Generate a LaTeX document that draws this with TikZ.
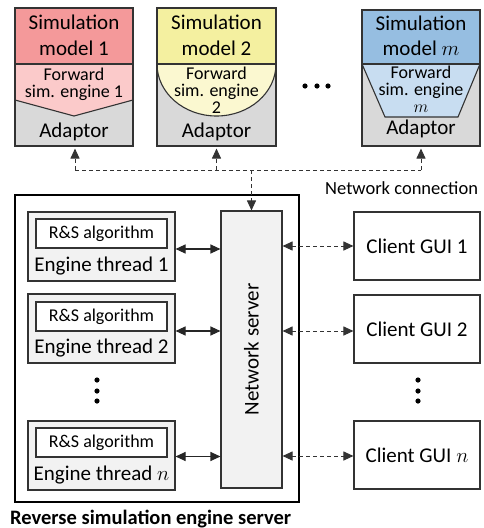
\documentclass[tikz,border=0pt]{standalone}
\usepackage{fontspec}
\setmainfont{Carlito}
\usetikzlibrary{arrows.meta}
\definecolor{redtop}{HTML}{F4999A}
\definecolor{redlow}{HTML}{FBCACA}
\definecolor{yeltop}{HTML}{F4F0A0}
\definecolor{yellow2}{HTML}{FBF8D0}
\definecolor{bluetop}{HTML}{96BEE1}
\definecolor{bluelow}{HTML}{C8DDF1}
\definecolor{adaptgray}{HTML}{D9D9D9}
\definecolor{panel}{HTML}{F2F2F2}
\definecolor{ink}{HTML}{333333}
\newcommand\fbig{\fontsize{21}{25}\selectfont}
\newcommand\fmid{\fontsize{18}{21}\selectfont}
\begin{document}
\begin{tikzpicture}[x=1pt,y=-1pt,
  outline/.style={draw=ink, line width=1.1pt},
  frame/.style={outline, inner sep=0pt, fill=none},
  txt/.style={anchor=base, inner sep=0pt, text=black},
  tipa/.style={-{Triangle[length=10pt,width=9pt]}},
  bitip/.style={{Triangle[length=10pt,width=9pt]}-{Triangle[length=10pt,width=9pt]}},
  dashline/.style={draw=ink, line width=1pt, dash pattern=on 4pt off 3pt},
  solidline/.style={draw=black!85, line width=1.1pt},
  engbox/.style={outline, fill=panel, minimum width=147pt, minimum height=69pt, inner sep=0pt},
  algbox/.style={outline, fill=white, minimum width=131pt, minimum height=29pt, inner sep=0pt},
  guibox/.style={outline, fill=white, minimum width=126pt, minimum height=68pt, inner sep=0pt, font=\fbig},
  dotmark/.style={fill=black}
]
\useasboundingbox (0,0) rectangle (483,528);

% ---- simulation model 1 ----
\fill[adaptgray] (15,8) rectangle (133,146);
\fill[redtop] (15,8) rectangle (133,64);
\fill[redlow] (15,64) -- (133,64) -- (133,100) -- (74,116) -- (15,100) -- cycle;
\draw[outline] (15,64) -- (133,64);
\draw[outline] (15,100) -- (74,116) -- (133,100);
\node[frame, minimum width=118pt, minimum height=138pt] (sim1) at (74,77) {};
\node[txt, font=\fbig] (s1a) at (74,29) {Simulation};
\node[txt, font=\fbig] (s1b) at (74,55) {model 1};
\node[txt, font=\fmid] (s1c) at (74,80) {Forward};
\node[txt, font=\fmid] (s1d) at (74,97) {sim. engine 1};
\node[txt, font=\fbig] (s1e) at (74,137) {Adaptor};

% ---- simulation model 2 ----
\fill[adaptgray] (157,8) rectangle (276,146);
\fill[yeltop] (157,8) rectangle (276,64);
\fill[yellow2] (157,64) arc[start angle=180, end angle=360, x radius=59.5pt, y radius=52pt] -- cycle;
\draw[outline] (157,64) -- (276,64);
\draw[outline] (157,64) arc[start angle=180, end angle=360, x radius=59.5pt, y radius=52pt];
\node[frame, minimum width=119pt, minimum height=138pt] (sim2) at (216.5,77) {};
\node[txt, font=\fbig] (s2a) at (216.5,29) {Simulation};
\node[txt, font=\fbig] (s2b) at (216.5,55) {model 2};
\node[txt, font=\fmid] (s2c) at (216.5,79) {Forward};
\node[txt, font=\fmid] (s2d) at (216.5,96) {sim. engine};
\node[txt, font=\fmid] (s2e) at (216.5,113) {2};
\node[txt, font=\fbig] (s2f) at (216.5,137) {Adaptor};

% ---- ellipsis between models ----
\foreach \dx in {305,317,328} \fill[dotmark] (\dx,86) circle[radius=2.6pt];

% ---- simulation model m ----
\fill[adaptgray] (362,10) rectangle (480,146);
\fill[bluetop] (362,10) rectangle (480,64);
\fill[bluelow] (362,64) -- (480,64) -- (458,117) -- (385,117) -- cycle;
\draw[outline] (362,64) -- (480,64);
\draw[outline] (362,64) -- (385,117) -- (458,117) -- (480,64);
\node[frame, minimum width=118pt, minimum height=136pt] (simm) at (421,78) {};
\node[txt, font=\fbig] (sma) at (421,30) {Simulation};
\node[txt, font=\fbig] (smb) at (421,55) {model $m$};
\node[txt, font=\fmid] (smc) at (421,78) {Forward};
\node[txt, font=\fmid] (smd) at (421,95) {sim. engine};
\node[txt, font=\fmid] (sme) at (421,112) {$m$};
\node[txt, font=\fbig] (smf) at (421,134) {Adaptor};

% ---- reverse simulation engine server ----
\node[draw=black, line width=2.6pt, minimum width=284pt, minimum height=307pt, inner sep=0pt] (rses) at (157,348.5) {};
\node[anchor=base west, inner sep=0pt, font=\fontsize{20.5}{24}\selectfont\bfseries] (rsl) at (10,524) {Reverse simulation engine server};

\node[outline, fill=panel, minimum width=61pt, minimum height=277pt, inner sep=0pt] (ns) at (251.5,349.5) {};
\node[rotate=90, font=\fbig, inner sep=0pt] (nsl) at (ns.center) {Network server};

% engine threads
\node[engbox] (e1) at (101.5,246.5) {};
\node[algbox, font=\fmid] (a1) at (101.5,233.5) {R\&S algorithm};
\node[txt, font=\fbig] (t1) at (101.5,271) {Engine thread 1};

\node[engbox] (e2) at (101.5,328.5) {};
\node[algbox, font=\fmid] (a2) at (101.5,316.5) {R\&S algorithm};
\node[txt, font=\fbig] (t2) at (101.5,353) {Engine thread 2};

\node[engbox] (en) at (101.5,455.5) {};
\node[algbox, font=\fmid] (an) at (101.5,442.5) {R\&S algorithm};
\node[txt, font=\fbig] (tn) at (101.5,480) {Engine thread $n$};

\foreach \dy in {380,391,401} \fill[dotmark] (97,\dy) circle[radius=2.6pt];

% links between engine threads and the network server
\path ([yshift=-2.5pt]e1.east) coordinate (e1r);
\path ([yshift=-2.5pt]e2.east) coordinate (e2r);
\path ([yshift=-1pt]en.east) coordinate (enr);
\draw[solidline, bitip] (e1r) -- (e1r -| ns.west);
\draw[solidline, bitip] (e2r) -- (e2r -| ns.west);
\draw[solidline, bitip] (enr) -- (enr -| ns.west);

% client GUIs
\node[guibox] (g1) at (417,246) {Client GUI 1};
\node[guibox] (g2) at (417,329) {Client GUI 2};
\node[guibox] (gn) at (417,455) {Client GUI $n$};
\foreach \dy in {380,391,401} \fill[dotmark] (418,\dy) circle[radius=2.6pt];

\draw[dashline, bitip] (ns.east |- g1.west) -- (g1.west);
\draw[dashline, bitip] ([yshift=-2pt]ns.east |- g2.west) -- ([yshift=-2pt]g2.west);
\draw[dashline, bitip] ([yshift=-1pt]ns.east |- gn.west) -- ([yshift=-1pt]gn.west);

% network connection to the adaptors
\coordinate (bus1) at (75,170);
\coordinate (bus2) at (216.5,170);
\coordinate (busm) at (421,170);
\coordinate (busn) at (ns.north |- bus1);
\draw[dashline] (bus1) -- (busm);
\draw[dashline, tipa, shorten >=2pt] (bus1) -- (bus1 |- sim1.south);
\draw[dashline, tipa, shorten >=2pt] (bus2) -- (sim2.south);
\draw[dashline, tipa, shorten >=2pt] (busm) -- (simm.south);
\draw[dashline, tipa] (busn) -- (ns.north);
\node[anchor=base west, inner sep=0pt, font=\fontsize{18.5}{22}\selectfont] (netc) at (325,194) {Network connection};
\end{tikzpicture}
\end{document}
